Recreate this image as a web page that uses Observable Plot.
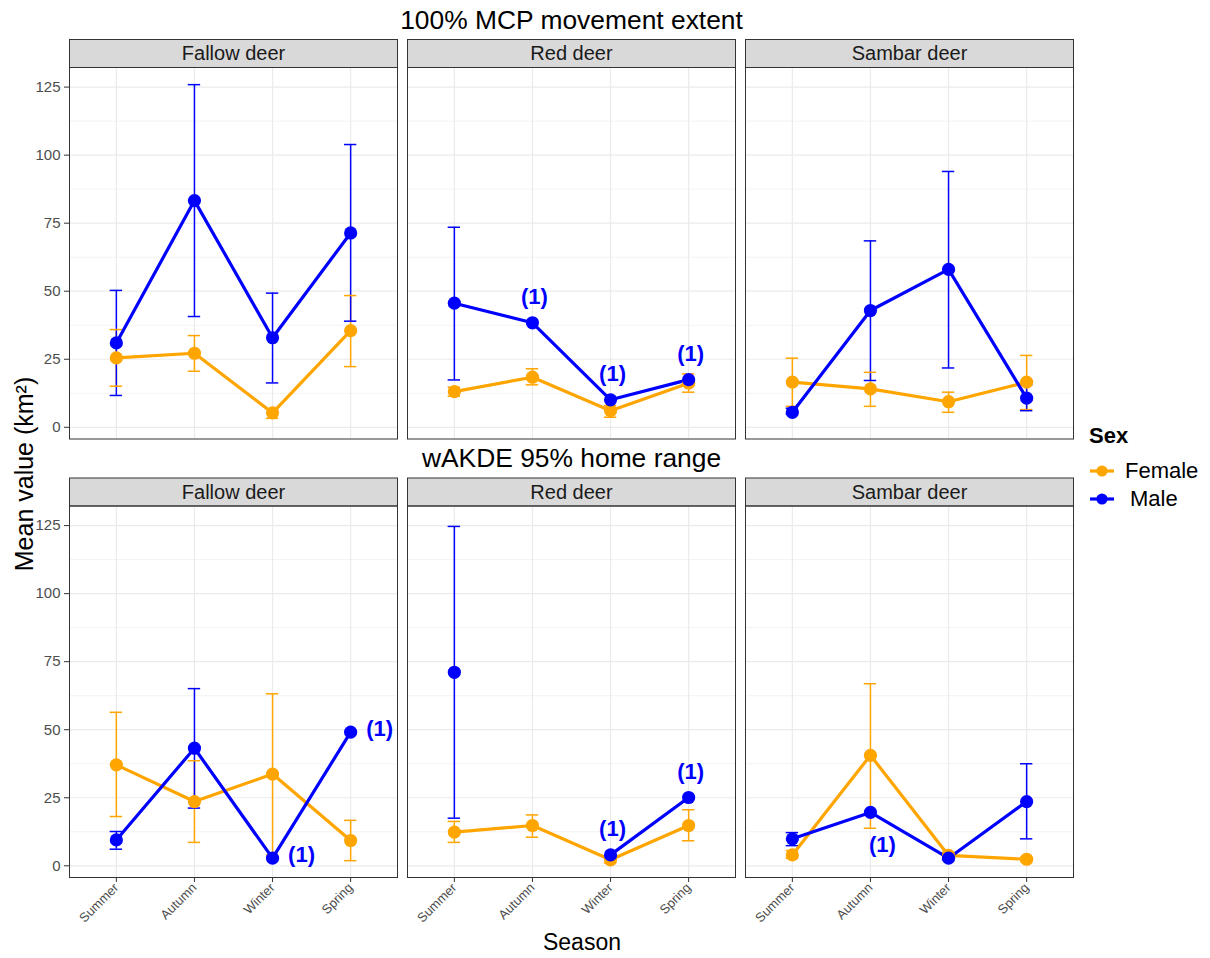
<!DOCTYPE html>
<html>
<head>
<meta charset="utf-8">
<script src="https://cdn.jsdelivr.net/npm/d3@7"></script>
<script src="https://cdn.jsdelivr.net/npm/@observablehq/plot@0.6"></script>
<style>
  body { margin: 0; background: #fff; font-family: "Liberation Sans", Arial, sans-serif; }
  #wrap { position: relative; width: 1210px; height: 958px; overflow: hidden; background: #fff; }
  #chart { position: absolute; left: 0; top: 0; }
  #chart svg, #chart svg text { font-family: "Liberation Sans", Arial, sans-serif; }
  .ylab { position: absolute; left: 24px; top: 474px; transform: translate(-50%, -50%) rotate(-90deg); font-size: 25px; white-space: nowrap; color: #000; }
  .xlab { position: absolute; left: 582px; top: 942px; transform: translate(-50%, -50%); font-size: 23px; white-space: nowrap; color: #000; }
  .leg { position: absolute; white-space: nowrap; font-size: 22px; color: #000; transform: translateY(-50%); }
  .legtitle { font-weight: bold; }
  .key { position: absolute; transform: translateY(-50%); }
</style>
</head>
<body>
<div id="wrap">
  <div id="chart"></div>
  <div class="ylab">Mean value (km²)</div>
  <div class="xlab">Season</div>
  <div id="legend"></div>
</div>
<script>
// ---------- data ----------
const seasons = ["Summer", "Autumn", "Winter", "Spring"];
const species = ["Fallow deer", "Red deer", "Sambar deer"];
const metrics = ["100% MCP movement extent", "wAKDE 95% home range"];
const sexes = ["Female", "Male"];

// values ordered species by species (Fallow, Red, Sambar), each Summer..Spring
const mcpFemaleMean = [25.5, 27.2, 5.3, 35.5,   13.1, 18.4, 6.1, 16.2,   16.6, 14.1, 9.4, 16.6];
const mcpFemaleLow  = [15.1, 20.6, 3.3, 22.3,   11.4, 15.6, 3.7, 12.9,    7.7,  7.7, 5.5,  6.5];
const mcpFemaleHigh = [35.9, 33.7, 6.8, 48.4,   14.7, 21.5, 8.0, 19.6,   25.4, 20.2, 12.9, 26.4];
const mcpMaleMean   = [31.0, 83.3, 32.9, 71.4,  45.6, 38.4, 10.1, 17.5,   5.5, 42.9, 58.0, 10.7];
const mcpMaleLow    = [11.7, 40.7, 16.3, 39.0,  17.4, null, null, null,   4.9, 17.2, 21.8,  6.1];
const mcpMaleHigh   = [50.3, 125.9, 49.3, 103.9, 73.5, null, null, null,  7.0, 68.5, 94.0, 15.6];

const akdeFemaleMean = [37.1, 23.6, 33.7, 9.3,  12.4, 14.8, 2.2, 14.8,   4.0, 40.6, 3.8, 2.4];
const akdeFemaleLow  = [18.1,  8.6,  4.0, 1.9,   8.6, 10.5, 1.0,  9.2,   2.8, 13.8, 2.8, 1.6];
const akdeFemaleHigh = [56.4, 38.6, 63.2, 16.7, 16.3, 18.7, 3.4, 20.6,   5.6, 66.9, 5.0, 3.1];
const akdeMaleMean   = [9.5, 43.2, 2.8, 49.1,   71.1, null, 4.0, 25.1,   9.9, 19.6, 2.8, 23.6];
const akdeMaleLow    = [6.1, 21.2, null, null,  17.5, null, null, null,  7.4, null, 2.2,  9.9];
const akdeMaleHigh   = [12.6, 65.1, null, null, 124.7, null, null, null, 12.2, null, 4.0, 37.5];

// single-animal means, annotated "(1)"
const singleAnimal = [
  {metric: metrics[0], species: "Red deer", season: "Autumn", place: "above"},
  {metric: metrics[0], species: "Red deer", season: "Winter", place: "above"},
  {metric: metrics[0], species: "Red deer", season: "Spring", place: "above"},
  {metric: metrics[1], species: "Fallow deer", season: "Winter", place: "right"},
  {metric: metrics[1], species: "Fallow deer", season: "Spring", place: "right"},
  {metric: metrics[1], species: "Red deer", season: "Winter", place: "above"},
  {metric: metrics[1], species: "Red deer", season: "Spring", place: "above"},
  {metric: metrics[1], species: "Sambar deer", season: "Autumn", place: "below"}
];

const yTicks = [0, 25, 50, 75, 100, 125];
const yMinor = [12.5, 37.5, 62.5, 87.5, 112.5];

// ---------- build table ----------
const rows = [];
function pushRows(metric, sex, mean, lo, hi) {
  species.forEach((sp, i) => seasons.forEach((se, j) => {
    const k = i * 4 + j;
    rows.push({metric, species: sp, season: se, sex, mean: mean[k], lo: lo[k], hi: hi[k]});
  }));
}
pushRows(metrics[0], "Female", mcpFemaleMean, mcpFemaleLow, mcpFemaleHigh);
pushRows(metrics[1], "Female", akdeFemaleMean, akdeFemaleLow, akdeFemaleHigh);
pushRows(metrics[0], "Male", mcpMaleMean, mcpMaleLow, mcpMaleHigh);
pushRows(metrics[1], "Male", akdeMaleMean, akdeMaleLow, akdeMaleHigh);

const singles = singleAnimal.map(s => {
  const r = rows.find(d => d.metric === s.metric && d.species === s.species && d.season === s.season && d.sex === "Male");
  return {...s, mean: r.mean};
});
const bars = rows.filter(d => d.lo != null && d.hi != null);
const pts = rows.filter(d => d.mean != null);
const strips = [];
metrics.forEach(m => species.forEach(s => strips.push({metric: m, species: s})));

// ---------- layout ----------
const W = 1210, H = 958;
const mTop = 67, mBottom = 81, mLeft = 69, mRight = 137;
const gapY = 67, gapX = 10;
const bandH = (H - mTop - mBottom - gapY) / 2;
const bandW = (W - mLeft - mRight - 2 * gapX) / 3;
const stripH = 28;
const orange = "#FFA500", blue = "#0000FF";
const FONT = '"Liberation Sans", Arial, sans-serif';

const chart = Plot.plot({
  width: W, height: H,
  marginTop: mTop, marginBottom: mBottom, marginLeft: mLeft, marginRight: mRight,
  style: {fontFamily: FONT, background: "#fff"},
  fx: {domain: species, paddingInner: gapX / (bandW + gapX), paddingOuter: 0, round: false, axis: null},
  fy: {domain: metrics, paddingInner: gapY / (bandH + gapY), paddingOuter: 0, round: false, axis: null},
  x: {type: "point", domain: seasons, padding: 0.6, round: false},
  y: {domain: [-4.3, 132.2]},
  color: {domain: sexes, range: [orange, blue]},
  marks: [
    Plot.frame({fill: "#fff"}),
    Plot.gridY({ticks: yMinor, stroke: "#ebebeb", strokeOpacity: 1, strokeWidth: 0.6}),
    Plot.gridY({ticks: yTicks, stroke: "#ebebeb", strokeOpacity: 1, strokeWidth: 1.2}),
    Plot.gridX({stroke: "#ebebeb", strokeOpacity: 1, strokeWidth: 1.2}),
    Plot.axisY({ticks: yTicks, tickSize: 5, tickPadding: 4, fontSize: 15, fill: "#4d4d4d", stroke: "#333", label: null}),
    Plot.axisX({tickRotate: -45, tickSize: 5, tickPadding: 3, fontSize: 13, fill: "#4d4d4d", stroke: "#333", label: null}),
    // strips
    Plot.frame({fill: "#d9d9d9", stroke: "#333", strokeWidth: 1, insetTop: -stripH, insetBottom: bandH}),
    Plot.text(strips, {fx: "species", fy: "metric", text: "species", frameAnchor: "top", lineAnchor: "middle", dy: -13.5, fontSize: 20, fill: "#1a1a1a"}),
    // row titles
    Plot.text(metrics, {fx: () => species[1], fy: d => d, text: d => d, frameAnchor: "top", lineAnchor: "middle", dy: -47, fontSize: 26.4, fill: "#000"}),
    // error bars
    Plot.ruleX(bars, {fx: "species", fy: "metric", x: "season", y1: "lo", y2: "hi", stroke: "sex", strokeWidth: 1.5}),
    Plot.ruleY(bars, {fx: "species", fy: "metric", x1: "season", x2: "season", y: "hi", stroke: "sex", strokeWidth: 1.5, insetLeft: -6.2, insetRight: -6.2}),
    Plot.ruleY(bars, {fx: "species", fy: "metric", x1: "season", x2: "season", y: "lo", stroke: "sex", strokeWidth: 1.5, insetLeft: -6.2, insetRight: -6.2}),
    // lines & points
    Plot.line(rows, {fx: "species", fy: "metric", x: "season", y: "mean", stroke: "sex", z: "sex", strokeWidth: 3.2}),
    Plot.dot(pts, {fx: "species", fy: "metric", x: "season", y: "mean", fill: "sex", r: 6.6}),
    // (1) annotations
    Plot.text(singles.filter(d => d.place === "above"), {fx: "species", fy: "metric", x: "season", y: "mean", text: () => "(1)", dx: 2, dy: -26, fontSize: 22, fontWeight: "bold", fill: blue}),
    Plot.text(singles.filter(d => d.place === "right"), {fx: "species", fy: "metric", x: "season", y: "mean", text: () => "(1)", dx: 29, dy: -3, fontSize: 22, fontWeight: "bold", fill: blue}),
    Plot.text(singles.filter(d => d.place === "below"), {fx: "species", fy: "metric", x: "season", y: "mean", text: () => "(1)", dx: 12, dy: 32, fontSize: 22, fontWeight: "bold", fill: blue}),
    // panel border
    Plot.frame({stroke: "#333", strokeWidth: 1})
  ]
});
document.getElementById("chart").appendChild(chart);

// ---------- legend ----------
const legend = document.getElementById("legend");
const colorOf = {Female: orange, Male: blue};
const t = document.createElement("div");
t.className = "leg legtitle"; t.style.left = "1089px"; t.style.top = "436px"; t.textContent = "Sex";
legend.appendChild(t);
sexes.forEach((s, i) => {
  const cy = 471 + i * 28;
  const key = document.createElementNS("http://www.w3.org/2000/svg", "svg");
  key.setAttribute("width", 26); key.setAttribute("height", 16);
  key.setAttribute("class", "key");
  key.style.left = "1089px"; key.style.top = cy + "px";
  key.innerHTML = `<line x1="1" x2="25" y1="8" y2="8" stroke="${colorOf[s]}" stroke-width="3.2"/><circle cx="13" cy="8" r="5.6" fill="${colorOf[s]}"/>`;
  legend.appendChild(key);
  const lab = document.createElement("div");
  lab.className = "leg"; lab.style.left = (s === "Male" ? 1130 : 1125) + "px"; lab.style.top = cy + "px";
  lab.textContent = s;
  legend.appendChild(lab);
});
</script>
</body>
</html>
